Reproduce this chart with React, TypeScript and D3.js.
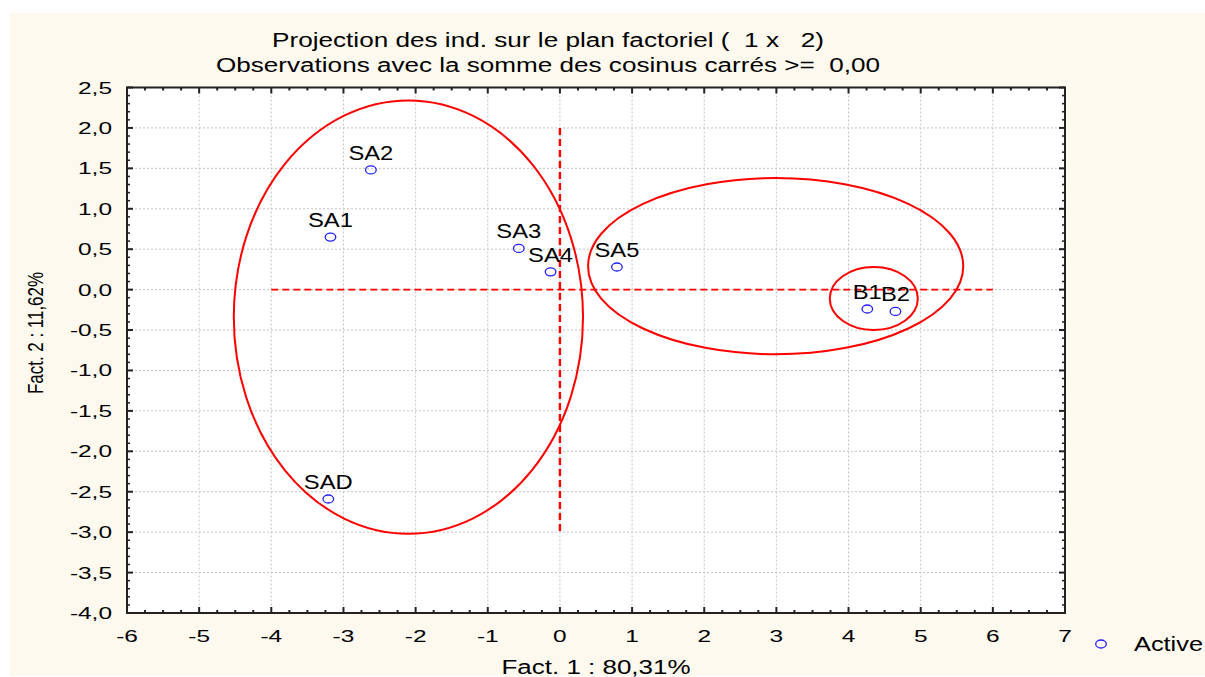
import React from 'react';
import * as d3 from 'd3';

// ---- data ----
const pointLabels = ['SA1', 'SA2', 'SA3', 'SA4', 'SA5', 'B1', 'B2', 'SAD'];
const fact1 = [-3.18, -2.62, -0.57, -0.13, 0.79, 4.26, 4.65, -3.21];
const fact2 = [0.65, 1.48, 0.51, 0.22, 0.28, -0.24, -0.27, -2.59];

const xMajor = d3.range(-6, 8).map((i) => i);
const yMajor = d3.range(-8, 6).map((i) => i * 0.5);
const xMinor = d3.range(-24, 29).filter((i) => i % 4 !== 0).map((i) => i / 4);
const yMinor = d3.range(-40, 26).filter((i) => i % 5 !== 0).map((i) => i / 10);

const ellipseCx = [-2.1, 2.99, 4.35];
const ellipseCy = [-0.34, 0.29, -0.11];
const ellipseRx = [2.42, 2.6, 0.61];
const ellipseRy = [2.68, 1.09, 0.39];

const hAxisLine = [-4, 6]; // dashed red line at y = 0
const vAxisLine = [2, -3]; // dashed red line at x = 0

const titleLines = [
  'Projection des ind. sur le plan factoriel (  1 x   2)',
  'Observations avec la somme des cosinus carrés >=  0,00',
];
const xTitle = 'Fact. 1 : 80,31%';
const yTitle = 'Fact. 2 : 11,62%';
const legendLabel = 'Active';

const W = 1205;
const H = 677;
const plot = { left: 127, right: 1065, top: 87.5, bottom: 613 };
const FONT = "'Liberation Sans', Arial, Helvetica, sans-serif";

const fmtY = (v: number) => d3.format('.1f')(v).replace('.', ',').replace('\u2212', '-');
const fmtX = (v: number) => d3.format('d')(v).replace('\u2212', '-');

function SText({ x, y, sx, size, anchor, children }: any) {
  return (
    <g transform={`translate(${x},${y}) scale(${sx},1)`}>
      <text x={0} y={0} fontSize={size} textAnchor={anchor} fontFamily={FONT} fill="#000">
        {children}
      </text>
    </g>
  );
}

export default function App() {
  const x = d3.scaleLinear().domain([-6, 7]).range([plot.left, plot.right]);
  const y = d3.scaleLinear().domain([-4, 2.5]).range([plot.bottom, plot.top]);
  const frame = '#222';

  return (
    <svg
      width={W}
      height={H}
      style={{ position: 'absolute', left: 0, top: 0, display: 'block' }}
      xmlns="http://www.w3.org/2000/svg"
    >
      <rect x={0} y={0} width={W} height={H} fill="#ffffff" />
      <rect x={10} y={13} width={W - 10} height={H - 14} fill="#fdf9ee" />
      <rect
        x={plot.left}
        y={plot.top}
        width={plot.right - plot.left}
        height={plot.bottom - plot.top}
        fill="#ffffff"
      />

      {/* grid */}
      {xMajor
        .filter((v) => v > -6 && v < 7)
        .map((v) => (
          <line
            key={'gx' + v}
            x1={x(v)}
            x2={x(v)}
            y1={plot.top}
            y2={plot.bottom}
            stroke="#c4c4c4"
            strokeWidth={1}
            strokeDasharray="2,2"
          />
        ))}
      {yMajor
        .filter((v) => v > -4 && v < 2.5)
        .map((v) => (
          <line
            key={'gy' + v}
            x1={plot.left}
            x2={plot.right}
            y1={y(v)}
            y2={y(v)}
            stroke="#c4c4c4"
            strokeWidth={1}
            strokeDasharray="2,2"
          />
        ))}

      {/* red dashed reference lines */}
      <line
        x1={x(hAxisLine[0])}
        x2={x(hAxisLine[1])}
        y1={y(0)}
        y2={y(0)}
        stroke="#ff0000"
        strokeWidth={1.8}
        strokeDasharray="7,4"
      />
      <line
        x1={x(0)}
        x2={x(0)}
        y1={y(vAxisLine[0])}
        y2={y(vAxisLine[1])}
        stroke="#ff0000"
        strokeWidth={2.4}
        strokeDasharray="7,4"
      />

      {/* ellipses */}
      {ellipseCx.map((cx, i) => (
        <ellipse
          key={'el' + i}
          cx={x(cx)}
          cy={y(ellipseCy[i])}
          rx={x(cx + ellipseRx[i]) - x(cx)}
          ry={y(ellipseCy[i]) - y(ellipseCy[i] + ellipseRy[i])}
          fill="none"
          stroke="#ff0000"
          strokeWidth={2}
        />
      ))}

      {/* points */}
      {fact1.map((v, i) => (
        <ellipse
          key={'pt' + i}
          cx={x(v)}
          cy={y(fact2[i])}
          rx={5.3}
          ry={4}
          fill="none"
          stroke="#1f1fff"
          strokeWidth={1.3}
        />
      ))}
      {fact1.map((v, i) => (
        <SText key={'lb' + i} x={x(v)} y={y(fact2[i]) - 10} sx={1.22} size={19.5} anchor="middle">
          {pointLabels[i]}
        </SText>
      ))}

      {/* frame */}
      <rect
        x={plot.left}
        y={plot.top}
        width={plot.right - plot.left}
        height={plot.bottom - plot.top}
        fill="none"
        stroke={frame}
        strokeWidth={2}
      />

      {/* ticks */}
      {xMajor.map((v) => (
        <g key={'xt' + v}>
          <line x1={x(v)} x2={x(v)} y1={plot.bottom} y2={plot.bottom - 6} stroke={frame} strokeWidth={2} />
          <line x1={x(v)} x2={x(v)} y1={plot.top} y2={plot.top + 6} stroke={frame} strokeWidth={2} />
        </g>
      ))}
      {xMinor.map((v) => (
        <g key={'xm' + v}>
          <line x1={x(v)} x2={x(v)} y1={plot.bottom} y2={plot.bottom - 3} stroke={frame} strokeWidth={2} />
          <line x1={x(v)} x2={x(v)} y1={plot.top} y2={plot.top + 3} stroke={frame} strokeWidth={2} />
        </g>
      ))}
      {yMajor.map((v) => (
        <g key={'yt' + v}>
          <line x1={plot.left} x2={plot.left + 6} y1={y(v)} y2={y(v)} stroke={frame} strokeWidth={2} />
          <line x1={plot.right} x2={plot.right - 6} y1={y(v)} y2={y(v)} stroke={frame} strokeWidth={2} />
        </g>
      ))}
      {yMinor.map((v) => (
        <g key={'ym' + v}>
          <line x1={plot.left} x2={plot.left + 3} y1={y(v)} y2={y(v)} stroke={frame} strokeWidth={1.5} />
          <line x1={plot.right} x2={plot.right - 3} y1={y(v)} y2={y(v)} stroke={frame} strokeWidth={1.5} />
        </g>
      ))}

      {/* tick labels */}
      {yMajor.map((v) => (
        <SText key={'yl' + v} x={plot.left - 15} y={y(v) + 6} sx={1.5} size={16.3} anchor="end">
          {fmtY(v)}
        </SText>
      ))}
      {xMajor.map((v) => (
        <SText key={'xl' + v} x={x(v)} y={plot.bottom + 29} sx={1.5} size={16.3} anchor="middle">
          {fmtX(v)}
        </SText>
      ))}

      {/* titles */}
      <text
        x={548}
        y={46.5}
        fontSize={19.5}
        fontFamily={FONT}
        textAnchor="middle"
        textLength={552}
        lengthAdjust="spacingAndGlyphs"
        style={{ whiteSpace: 'pre' }}
      >
        {titleLines[0]}
      </text>
      <text
        x={548}
        y={71.5}
        fontSize={19.5}
        fontFamily={FONT}
        textAnchor="middle"
        textLength={664}
        lengthAdjust="spacingAndGlyphs"
        style={{ whiteSpace: 'pre' }}
      >
        {titleLines[1]}
      </text>
      <text
        x={(plot.left + plot.right) / 2}
        y={674}
        fontSize={19.5}
        fontFamily={FONT}
        textAnchor="middle"
        textLength={189}
        lengthAdjust="spacingAndGlyphs"
      >
        {xTitle}
      </text>
      <g transform="translate(43,333) scale(1.3,1) rotate(-90)">
        <text
          x={0}
          y={0}
          fontSize={16.7}
          fontFamily={FONT}
          textAnchor="middle"
          textLength={122}
          lengthAdjust="spacingAndGlyphs"
        >
          {yTitle}
        </text>
      </g>

      {/* legend */}
      <ellipse cx={1101} cy={644} rx={5.3} ry={4} fill="none" stroke="#1f1fff" strokeWidth={1.3} />
      <SText x={1134} y={651} sx={1.3} size={19.5} anchor="start">
        {legendLabel}
      </SText>
    </svg>
  );
}
